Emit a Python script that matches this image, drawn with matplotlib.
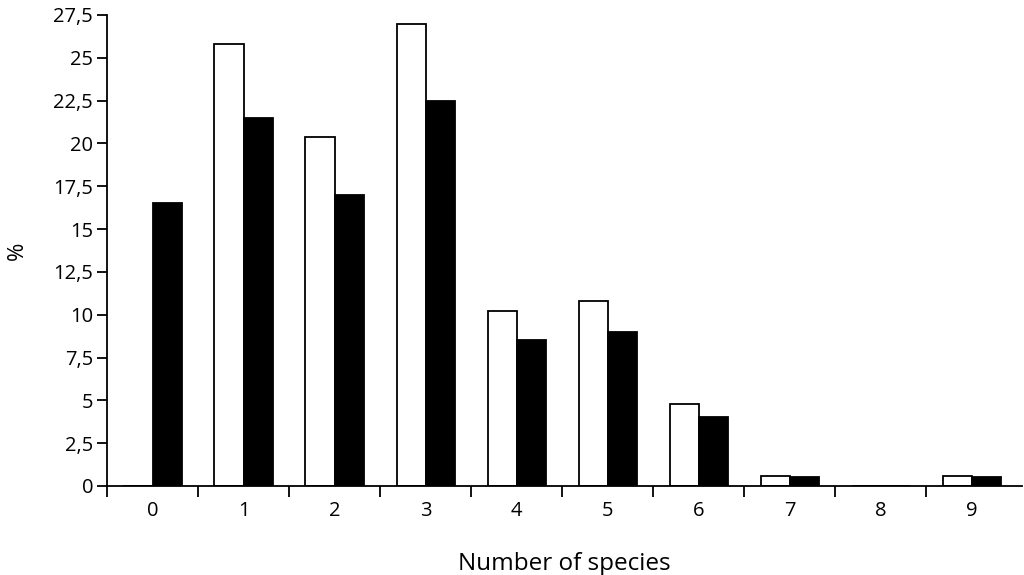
import numpy as np
import matplotlib.pyplot as plt

plt.rcParams['font.family'] = ['Open Sans', 'DejaVu Sans']

# --- data
species = [0, 1, 2, 3, 4, 5, 6, 7, 8, 9]
white_vals = [0, 25.8, 20.4, 27.0, 10.2, 10.8, 4.8, 0.6, 0, 0.6]
black_vals = [16.5, 21.5, 17.0, 22.5, 8.5, 9.0, 4.0, 0.5, 0, 0.5]
yticks = [0, 2.5, 5, 7.5, 10, 12.5, 15, 17.5, 20, 22.5, 25, 27.5]
ytick_labels = ['0', '2,5', '5', '7,5', '10', '12,5', '15', '17,5', '20', '22,5', '25', '27,5']

fig = plt.figure(figsize=(10.24, 5.75), dpi=100)
ax = fig.add_axes([0.1045, 0.1548, 0.8935, 0.8192])

x = np.array(species)
w = 0.32
ax.bar(x - w/2, white_vals, width=w, color='white', edgecolor='black', linewidth=1.3)
ax.bar(x + w/2, black_vals, width=w, color='black', edgecolor='black', linewidth=1.3)

ax.set_xlim(-0.5, 9.55)
ax.set_ylim(0, 27.5)

ax.spines['top'].set_visible(False)
ax.spines['right'].set_visible(False)
ax.spines['left'].set_linewidth(1.3)
ax.spines['bottom'].set_linewidth(1.3)

ax.set_yticks(yticks)
ax.set_yticklabels(ytick_labels, fontsize=14.5)
ax.tick_params(axis='y', direction='out', length=7, width=1.3, pad=3)

# category labels at centres, tick marks at the boundaries
ax.set_xticks(x)
ax.set_xticklabels([str(s) for s in species], fontsize=14.5)
ax.tick_params(axis='x', which='major', length=0, pad=11)
ax.set_xticks(np.arange(-0.5, 9.5, 1.0), minor=True)
ax.tick_params(axis='x', which='minor', direction='out', length=8, width=1.3)

ax.set_ylabel('%', fontsize=16, labelpad=18)
ax.set_xlabel('Number of species', fontsize=17.5, labelpad=22)

fig.savefig('out.png', dpi=100)
